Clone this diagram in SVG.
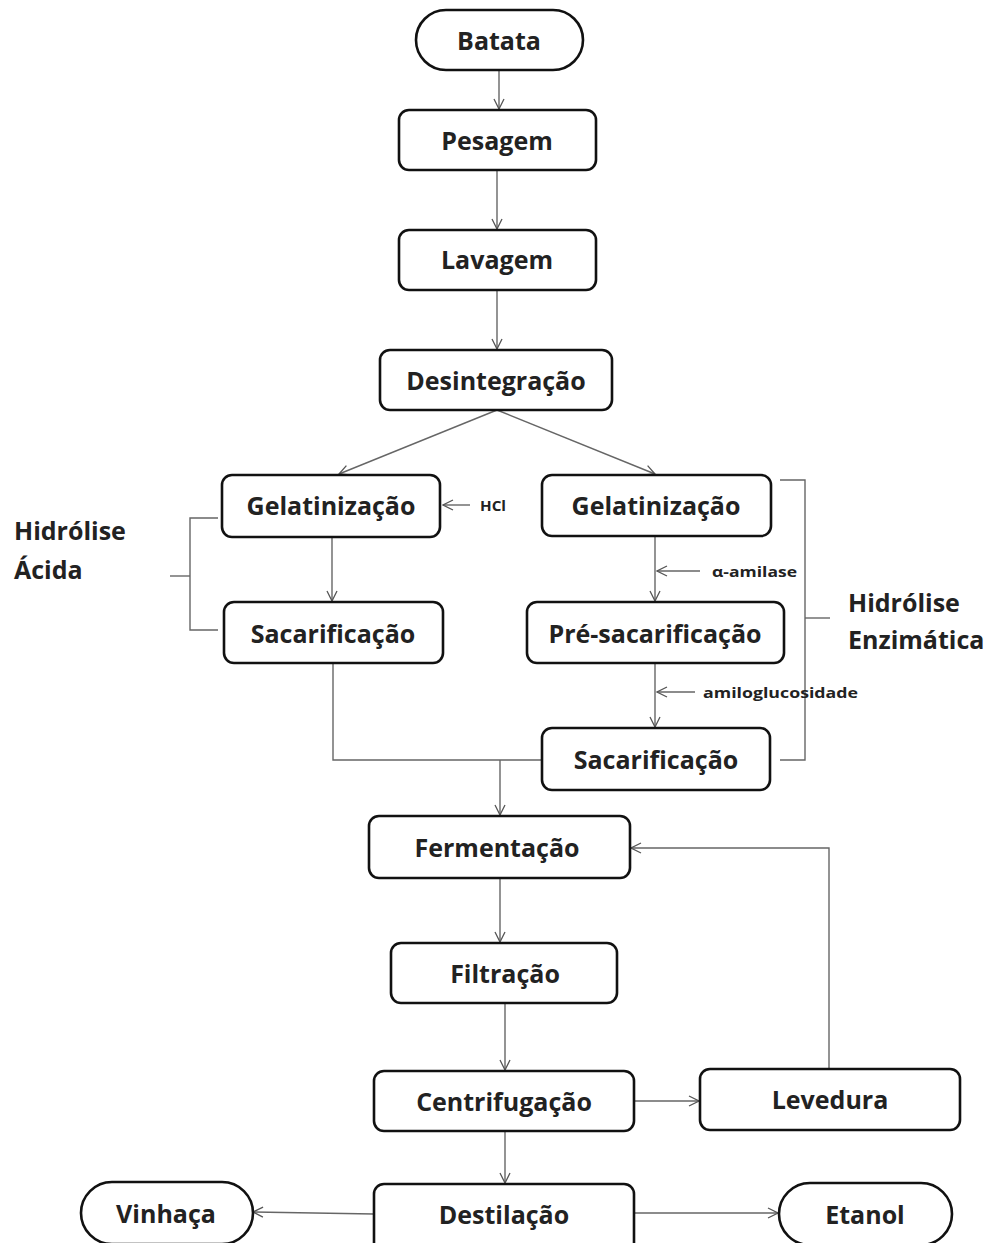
<svg xmlns="http://www.w3.org/2000/svg" width="992" height="1243" viewBox="0 0 992 1243">
<defs>
<marker id="arr" viewBox="0 0 12 12" refX="11" refY="6" markerWidth="12" markerHeight="12" markerUnits="userSpaceOnUse" orient="auto">
<path d="M1,1 L11,6 L1,11" fill="none" stroke="#555" stroke-width="1.3"/>
</marker>
<style>
.box{fill:#fff;stroke:#111;stroke-width:2.6}
.t{font-family:"Open Sans","DejaVu Sans",sans-serif;font-weight:700;font-size:25px;fill:#222;text-anchor:middle;dominant-baseline:central}
.s{font-family:"Open Sans","DejaVu Sans",sans-serif;font-weight:700;font-size:14px;fill:#222;dominant-baseline:central}
.lab{font-family:"Open Sans","DejaVu Sans",sans-serif;font-weight:700;font-size:25px;fill:#222}
.c{fill:none;stroke:#666;stroke-width:1.4}
.a{fill:none;stroke:#666;stroke-width:1.4;marker-end:url(#arr)}
</style>
</defs>
<rect width="992" height="1243" fill="#fff"/>
<g id="connectors">
<line class="a" x1="499" y1="70" x2="499" y2="109"/>
<line class="a" x1="497" y1="170" x2="497" y2="229"/>
<line class="a" x1="497" y1="290" x2="497" y2="349"/>
<line class="a" x1="497" y1="410" x2="339" y2="474"/>
<line class="a" x1="497" y1="410" x2="655" y2="474"/>
<line class="a" x1="470" y1="505" x2="443" y2="505"/>
<line class="a" x1="332" y1="537" x2="332" y2="601"/>
<line class="a" x1="655" y1="536" x2="655" y2="601"/>
<line class="a" x1="700" y1="571" x2="657" y2="571"/>
<line class="a" x1="655" y1="663" x2="655" y2="727"/>
<line class="a" x1="695" y1="692" x2="657" y2="692"/>
<polyline class="c" points="333,663 333,760 542,760"/>
<line class="a" x1="500" y1="760" x2="500" y2="815"/>
<line class="a" x1="500" y1="878" x2="500" y2="942"/>
<line class="a" x1="505" y1="1003" x2="505" y2="1070"/>
<line class="a" x1="634" y1="1101" x2="699" y2="1101"/>
<polyline class="a" points="829,1069 829,848 631,848"/>
<line class="a" x1="505" y1="1131" x2="505" y2="1183"/>
<line class="a" x1="374" y1="1214" x2="253" y2="1212"/>
<line class="a" x1="634" y1="1213" x2="778" y2="1213"/>
<polyline class="c" points="218,518 190,518 190,630 218,630"/>
<line class="c" x1="190" y1="576" x2="170" y2="576"/>
<polyline class="c" points="780,480 805,480 805,760 780,760"/>
<line class="c" x1="805" y1="618" x2="830" y2="618"/>
</g>
<g id="batata"><rect class="box" x="416" y="10" width="167" height="60" rx="30"/><text class="t" x="499" y="40">Batata</text></g>
<g id="pesagem"><rect class="box" x="399" y="110" width="197" height="60" rx="10"/><text class="t" x="497" y="140">Pesagem</text></g>
<g id="lavagem"><rect class="box" x="399" y="230" width="197" height="60" rx="10"/><text class="t" x="497" y="259">Lavagem</text></g>
<g id="desintegracao"><rect class="box" x="380" y="350" width="232" height="60" rx="10"/><text class="t" x="496" y="380">Desintegração</text></g>
<g id="gel-acida"><rect class="box" x="222" y="475" width="218" height="62" rx="10"/><text class="t" x="331" y="505">Gelatinização</text></g>
<g id="hcl"><text class="s" x="480" y="505" textLength="26" lengthAdjust="spacingAndGlyphs">HCl</text></g>
<g id="gel-enz"><rect class="box" x="542" y="475" width="229" height="61" rx="10"/><text class="t" x="656" y="505">Gelatinização</text></g>
<g id="alfa"><text class="s" x="712" y="571" textLength="85" lengthAdjust="spacingAndGlyphs">α-amilase</text></g>
<g id="sac-acida"><rect class="box" x="224" y="602" width="219" height="61" rx="10"/><text class="t" x="333" y="633">Sacarificação</text></g>
<g id="presac"><rect class="box" x="527" y="602" width="257" height="61" rx="10"/><text class="t" x="655" y="633">Pré-sacarificação</text></g>
<g id="amilo"><text class="s" x="703" y="692" textLength="155" lengthAdjust="spacingAndGlyphs">amiloglucosidade</text></g>
<g id="sac-enz"><rect class="box" x="542" y="728" width="228" height="62" rx="10"/><text class="t" x="656" y="759">Sacarificação</text></g>
<g id="hid-acida"><text class="lab" x="14" y="540">Hidrólise</text><text class="lab" x="14" y="579">Ácida</text></g>
<g id="hid-enz"><text class="lab" x="848" y="612">Hidrólise</text><text class="lab" x="848" y="649">Enzimática</text></g>
<g id="fermentacao"><rect class="box" x="369" y="816" width="261" height="62" rx="10"/><text class="t" x="497" y="847">Fermentação</text></g>
<g id="filtracao"><rect class="box" x="391" y="943" width="226" height="60" rx="10"/><text class="t" x="505" y="973">Filtração</text></g>
<g id="centrifugacao"><rect class="box" x="374" y="1071" width="260" height="60" rx="10"/><text class="t" x="504" y="1101">Centrifugação</text></g>
<g id="levedura"><rect class="box" x="700" y="1069" width="260" height="61" rx="10"/><text class="t" x="830" y="1099">Levedura</text></g>
<g id="destilacao"><rect class="box" x="374" y="1184" width="260" height="70" rx="10"/><text class="t" x="504" y="1214">Destilação</text></g>
<g id="vinhaca"><rect class="box" x="81" y="1182" width="172" height="62" rx="31"/><text class="t" x="166" y="1213">Vinhaça</text></g>
<g id="etanol"><rect class="box" x="779" y="1183" width="173" height="62" rx="31"/><text class="t" x="865" y="1214">Etanol</text></g>
</svg>
